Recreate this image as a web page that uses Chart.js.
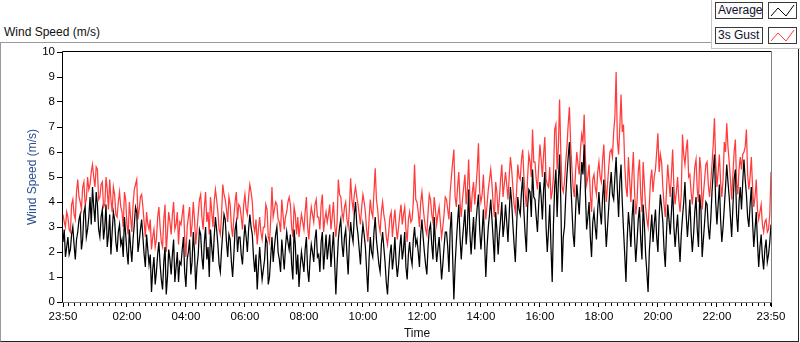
<!DOCTYPE html>
<html>
<head>
<meta charset="utf-8">
<script src="https://cdn.jsdelivr.net/npm/chart.js@4.4.1/dist/chart.umd.min.js"></script>
<style>
  body { margin: 0; background: #fff; }
  #wrap { position: relative; width: 800px; height: 342px; overflow: hidden; font-family: 'Liberation Sans', Arial, sans-serif; }
  #title { position: absolute; left: 4px; top: 25px; font-size: 12px; line-height: 15px; color: #111; }
  #frame { position: absolute; left: 0; top: 42px; width: 797px; height: 298px;
           border-left: 1px solid #9a9a9a; border-top: 1px solid #9a9a9a;
           border-right: 1px solid #222; border-bottom: 1px solid #222; }
  #windChart { position: absolute; left: 0; top: 0; }
  #legendPanel { position: absolute; left: 711px; top: 0; width: 89px; height: 48px; background: #fff;
                 border-left: 1px solid #c4c4c4; border-bottom: 1px solid #c4c4c4; }
  .lbl { position: absolute; left: 3px; width: 44px; height: 15px; border: 1px solid #3a3a3a; background: #fbfbfb;
         font-size: 12px; line-height: 15px; padding-left: 2px; color: #101028; white-space: nowrap; }
  .icon { position: absolute; left: 56px; width: 27px; height: 15px; border: 1px solid #3a3a3a; background: #fff; }
</style>
</head>
<body>
<div id="wrap">
  <div id="title">Wind Speed (m/s)</div>
  <div id="frame"></div>
  <canvas id="windChart" width="800" height="342"></canvas>
  <div id="legendPanel">
    <div class="lbl" style="top:2px">Average</div>
    <svg class="icon" style="top:2px" viewBox="0 0 27 15"><polyline points="2,13 9,5 17,13 25,2" fill="none" stroke="#000" stroke-width="1"/></svg>
    <div class="lbl" style="top:27px">3s Gust</div>
    <svg class="icon" style="top:27px" viewBox="0 0 27 15"><polyline points="2,13 9,5 17,13 25,2" fill="none" stroke="#ff3b3b" stroke-width="1"/></svg>
  </div>
</div>
<script>
// one sample every 2.5 minutes, from 23:50 (minute 0) to 23:50 next day (minute 1440)
const sampleStep = 2.5;

// Average wind speed (m/s), one row per hour
const avgSpeed = [
  2.4,2.9,1.8,2.2,2.6,1.9,2.1,2.7,3.0,2.3,1.7,2.5,2.8,3.3,3.5,2.1,2.5,3.6,3.8,2.6,2.9,3.4,4.2,3.1,
  4.6,3.8,3.2,4.4,3.9,2.9,2.6,3.4,3.7,2.5,3.0,3.9,2.2,2.7,3.5,1.9,2.8,3.6,3.3,2.4,2.0,2.8,3.1,2.3,
  2.5,1.8,3.4,2.7,2.0,1.5,2.9,2.2,1.6,2.5,3.1,3.8,3.6,2.0,2.4,2.9,3.3,2.6,1.9,1.4,2.7,2.1,1.5,1.9,
  0.4,1.3,1.8,0.7,1.2,1.9,2.4,1.5,0.9,0.5,1.6,2.2,0.3,1.0,2.1,1.7,1.1,1.9,2.5,0.8,1.4,2.0,0.8,1.6,
  1.5,2.1,2.6,1.2,0.6,1.7,2.0,2.5,1.1,1.6,2.8,2.0,0.5,1.4,1.9,2.9,2.7,1.8,1.3,2.4,3.0,1.7,2.2,1.0,
  2.9,2.2,1.6,2.6,3.4,2.9,2.3,1.5,1.2,2.1,2.8,3.5,3.3,2.4,1.8,2.7,2.5,1.6,1.0,1.9,2.9,3.2,2.0,2.6,
  2.6,1.9,1.5,2.4,3.1,2.6,2.0,2.9,3.5,3.0,2.7,1.8,1.2,1.9,0.5,1.4,2.2,1.5,0.9,1.3,1.7,2.6,2.4,0.7,
  1.0,1.8,2.6,1.6,2.2,2.7,3.0,2.0,1.7,1.2,2.5,1.9,1.3,2.2,2.8,2.4,2.1,2.7,1.5,0.9,2.9,2.3,1.1,1.9,
  0.6,1.4,2.0,1.6,1.2,2.1,2.6,1.3,0.8,1.7,2.3,2.0,1.6,2.5,2.9,1.8,1.9,1.2,2.4,2.8,1.3,2.0,2.7,1.7,
  2.2,2.7,1.4,2.1,2.8,1.6,0.3,1.5,2.5,3.0,3.3,2.3,1.8,2.6,2.9,1.9,1.1,2.4,3.2,2.7,2.4,3.5,4.0,3.1,
  2.7,2.1,1.5,2.5,3.1,2.7,2.2,1.3,0.4,1.7,2.6,2.0,1.8,2.8,3.4,2.5,2.0,1.5,1.2,2.3,2.8,2.2,1.6,0.8,
  0.3,1.2,1.9,2.3,1.3,1.8,2.6,1.6,1.0,1.5,2.2,2.7,1.7,2.1,2.8,1.4,0.9,1.9,2.4,1.8,1.5,2.5,3.0,2.3,
  2.5,2.0,1.4,2.7,3.3,2.6,2.0,1.5,1.1,2.2,2.9,3.1,2.3,1.7,3.4,2.4,1.6,2.1,2.6,1.8,0.9,1.5,2.2,2.8,
  2.8,2.2,1.2,2.9,3.6,1.8,0.1,1.5,2.4,3.2,3.9,2.6,1.7,2.5,3.1,3.7,2.3,3.0,4.5,2.8,1.9,2.7,3.4,2.1,
  3.2,3.8,4.3,2.9,2.1,2.8,3.7,2.4,1.0,2.2,3.0,3.5,4.1,3.3,2.5,1.6,3.6,2.9,1.9,2.7,3.3,4.0,2.6,3.1,
  3.9,3.2,2.4,3.5,4.6,4.0,3.1,2.3,1.6,3.0,4.2,3.7,3.5,4.4,5.0,3.6,2.7,2.0,3.8,4.5,4.4,3.4,5.3,4.2,
  4.1,3.4,2.8,3.9,4.8,4.2,3.3,4.5,5.2,3.0,2.0,2.9,3.9,2.2,0.8,3.1,4.6,5.3,3.4,4.8,5.9,4.0,1.2,2.6,
  3.0,4.2,5.1,5.8,6.4,4.9,3.8,2.7,2.2,3.6,4.7,4.1,3.5,4.6,5.6,5.1,6.3,4.4,2.9,3.4,4.0,2.6,1.8,3.2,
  3.6,3.0,2.5,3.7,4.4,3.6,3.1,4.2,4.9,3.3,2.2,3.0,3.8,4.6,5.2,4.3,4.1,5.0,5.8,4.5,3.4,4.8,5.5,4.0,
  2.9,1.9,0.8,2.5,3.6,3.0,2.2,3.4,4.1,2.6,1.6,2.4,3.3,3.8,2.5,1.7,3.9,3.1,1.9,1.2,0.4,2.0,2.8,3.5,
  2.4,3.1,3.7,2.6,2.0,3.4,4.3,3.8,3.2,2.1,1.4,2.8,3.9,3.3,2.7,3.6,4.6,3.0,2.2,2.9,3.5,2.4,1.6,2.7,
  3.4,4.0,4.8,3.5,2.6,3.3,4.1,2.8,2.0,2.7,3.6,4.2,2.9,2.2,4.3,3.7,1.8,2.5,3.2,4.0,3.9,3.0,2.5,3.3,
  4.4,5.2,5.9,4.0,3.1,3.9,4.7,3.3,2.4,3.0,3.8,4.6,5.5,4.8,4.2,3.4,2.6,3.8,4.9,5.3,3.5,2.8,4.0,4.6,
  3.7,4.8,5.7,4.9,4.3,3.4,3.0,3.9,4.6,3.2,2.2,2.9,3.6,2.4,1.4,2.2,2.7,1.8,1.3,2.1,2.5,1.6,1.9,2.4,
  3.1
];

// 3 second gust (m/s)
const gustSpeed = [
  3.5,3.2,3.0,3.6,3.4,2.9,2.8,3.9,4.1,3.5,3.3,4.4,4.9,4.2,4.0,3.7,4.6,4.8,3.9,4.1,5.0,4.5,4.7,5.2,
  5.5,5.0,4.6,5.4,5.3,4.1,4.2,4.7,4.8,3.8,3.9,5.0,4.5,3.7,4.9,4.1,3.6,4.6,4.3,3.5,3.4,4.0,4.4,3.8,
  3.6,3.0,4.4,4.1,3.1,2.7,4.0,3.4,2.8,3.9,4.5,4.7,4.9,3.3,3.7,4.2,4.3,3.8,3.2,2.6,3.6,3.1,2.9,3.3,
  2.1,2.6,2.9,2.2,2.5,3.4,3.8,3.0,2.4,2.2,3.3,3.9,2.0,2.8,3.6,3.2,2.7,3.5,4.0,2.9,3.1,3.6,2.3,3.2,
  3.1,3.5,3.9,2.6,1.8,3.0,3.4,3.8,2.6,3.1,4.0,3.3,2.3,2.9,3.5,4.1,4.3,3.4,2.9,3.8,4.4,3.2,3.6,2.7,
  4.2,3.6,3.0,4.0,4.5,4.1,3.6,2.9,2.7,3.5,4.7,4.3,4.1,3.7,3.2,4.2,3.9,3.0,2.6,3.4,4.0,4.4,3.3,3.9,
  3.8,3.4,2.9,3.9,4.3,3.7,3.5,4.2,4.7,4.4,4.0,3.1,2.8,3.3,2.3,2.9,3.4,2.8,2.5,3.0,3.0,3.9,3.7,2.6,
  2.4,3.3,4.6,3.4,3.7,4.0,3.9,3.3,3.2,2.8,4.1,3.5,2.9,3.4,3.6,4.0,4.2,3.9,3.0,2.6,3.8,3.5,2.7,3.4,
  2.6,3.1,3.5,3.2,2.9,3.6,4.2,3.0,2.5,3.3,3.8,3.5,3.2,3.9,4.1,3.4,3.4,2.9,3.9,4.3,2.8,3.3,3.6,3.2,
  3.5,3.9,2.9,3.4,4.0,3.1,2.6,3.2,4.9,4.3,4.2,3.6,3.3,3.8,4.0,3.3,3.0,3.7,4.95,4.1,3.7,4.3,4.6,4.2,
  3.9,3.5,3.1,3.8,4.3,4.0,3.6,2.9,2.4,3.3,4.1,3.6,3.4,4.4,5.35,4.1,3.7,3.1,2.8,3.6,4.0,3.5,3.2,2.6,
  2.3,2.8,3.4,3.6,2.6,3.2,3.7,3.0,2.5,3.0,3.5,3.9,3.1,3.5,3.8,2.9,2.4,3.3,3.6,3.2,3.3,4.0,5.5,4.1,
  4.0,3.6,3.0,4.0,4.4,3.8,3.3,2.9,2.7,3.6,4.3,4.1,3.5,3.2,4.2,3.7,3.1,3.5,3.8,3.2,2.6,3.0,3.5,4.2,
  4.1,3.7,3.3,4.4,5.0,5.6,6.1,4.2,3.8,4.6,5.2,4.0,3.4,4.1,4.6,5.1,3.9,4.5,5.7,4.3,3.6,4.4,4.8,3.9,
  4.6,5.3,6.35,4.4,4.0,4.3,5.1,4.0,3.3,3.9,4.5,4.9,5.3,4.7,3.9,3.4,4.8,4.4,3.5,4.1,4.9,5.5,4.2,4.7,
  5.2,4.7,4.1,5.0,5.8,5.3,4.6,3.9,3.6,4.4,5.5,5.0,4.9,5.7,6.1,5.0,4.3,3.8,5.0,5.9,5.6,5.0,6.9,5.6,
  5.6,4.9,4.5,5.4,6.3,5.7,5.0,5.9,6.6,4.9,4.7,4.6,5.4,4.1,4.4,5.0,6.9,7.1,5.3,6.2,8.1,6.0,4.6,4.4,
  4.8,5.6,6.2,7.1,7.8,6.3,5.4,4.6,4.2,5.2,6.0,5.5,5.1,6.1,6.7,6.4,7.5,5.8,4.7,5.0,5.5,4.3,3.6,4.9,
  5.1,4.6,4.3,5.2,5.6,5.0,4.8,5.7,6.3,4.9,4.0,4.7,5.4,6.0,6.1,5.8,6.8,7.4,9.2,6.5,5.9,7.0,8.3,6.8,
  7.1,5.5,4.6,4.2,5.8,4.9,4.0,5.1,6.0,4.4,3.5,4.0,5.2,5.7,4.3,3.6,5.6,4.7,3.8,3.3,3.0,3.9,4.9,5.3,
  4.4,5.0,5.3,6.0,6.75,5.2,5.9,5.6,4.6,3.9,3.4,4.5,5.5,4.8,4.2,5.1,6.1,4.6,3.9,4.4,5.0,4.1,3.6,4.3,
  6.7,5.9,5.5,6.1,6.5,5.0,5.1,4.4,3.9,4.6,5.4,5.7,4.5,4.0,5.8,5.3,3.7,4.3,4.9,5.5,5.6,4.7,4.2,4.8,
  5.5,6.3,7.35,5.6,4.6,5.2,5.9,4.8,4.2,4.9,6.4,6.0,7.15,6.2,5.6,4.9,4.1,5.1,6.0,6.5,4.8,4.3,5.3,5.8,
  5.3,5.9,6.0,6.2,6.9,5.1,4.5,5.0,5.8,4.6,3.8,4.2,4.9,3.7,3.3,3.6,3.9,3.1,2.8,3.2,3.3,2.8,2.9,3.5,
  5.2
];

// x axis: labelled ticks (minutes after 23:50)
const timeLabels = ['23:50','02:00','04:00','06:00','08:00','10:00','12:00','14:00','16:00','18:00','20:00','22:00','23:50'];
const timeTickMinutes = [0,130,250,370,490,610,730,850,970,1090,1210,1330,1440];
// minor ticks every 12 min of clock time (00:00, 00:12, ...)
const minorTickMinutes = [];
for (let m = 10; m < 1440; m += 12) minorTickMinutes.push(m);

const yTickValues = [0,1,2,3,4,5,6,7,8,9,10];

const FONT = "'Liberation Sans', Arial, sans-serif";

const toPoints = (arr) => arr.map((v, i) => ({ x: i * sampleStep, y: v }));

// frame around the plot + short minor ticks on the time axis
const plotFrame = {
  id: 'plotFrame',
  afterDraw(chart) {
    const { ctx, chartArea: a, scales } = chart;
    const L = Math.round(a.left) - 0.5, R = Math.round(a.right) + 0.5;
    const T = Math.round(a.top) - 0.5, B = Math.round(a.bottom) + 0.5;
    ctx.save();
    ctx.lineWidth = 1;
    ctx.strokeStyle = '#000';
    ctx.beginPath();
    ctx.moveTo(L, B); ctx.lineTo(L, T); ctx.lineTo(R, T);
    ctx.stroke();
    ctx.strokeStyle = '#808080';
    ctx.beginPath();
    ctx.moveTo(R, T); ctx.lineTo(R, B); ctx.lineTo(L, B);
    ctx.stroke();
    ctx.strokeStyle = '#000';
    ctx.beginPath();
    minorTickMinutes.forEach(m => {
      if (timeTickMinutes.includes(m)) return;
      const x = Math.round(scales.x.getPixelForValue(m)) + 0.5;
      ctx.moveTo(x, B + 0.5);
      ctx.lineTo(x, B + 3.5);
    });
    ctx.stroke();
    ctx.restore();
  }
};

new Chart(document.getElementById('windChart'), {
  type: 'line',
  data: {
    datasets: [
      { label: 'Average', data: toPoints(avgSpeed), borderColor: '#000', borderWidth: 1.25,
        pointRadius: 0, tension: 0, fill: false },
      { label: '3s Gust', data: toPoints(gustSpeed), borderColor: '#ff3b3b', borderWidth: 1.25,
        pointRadius: 0, tension: 0, fill: false }
    ]
  },
  options: {
    responsive: false,
    animation: false,
    events: [],
    layout: { padding: { left: 18, right: 29, top: 52, bottom: 0 } },
    plugins: { legend: { display: false }, tooltip: { enabled: false } },
    scales: {
      x: {
        type: 'linear', min: 0, max: 1440,
        afterBuildTicks: (s) => { s.ticks = timeTickMinutes.map(v => ({ value: v })); },
        afterFit: (s) => { s.height = 40; },
        ticks: {
          autoSkip: false, maxRotation: 0, padding: 3, color: '#000',
          font: { family: FONT, size: 11.5 },
          callback: (v, i) => timeLabels[i]
        },
        grid: { drawOnChartArea: false, drawTicks: true, tickLength: 5, tickColor: '#000' },
        border: { display: false },
        title: { display: true, text: 'Time', color: '#111', font: { family: FONT, size: 12 },
                 padding: { top: 0, bottom: 1 } }
      },
      y: {
        min: 0, max: 10,
        afterBuildTicks: (s) => { s.ticks = yTickValues.map(v => ({ value: v })); },
        afterFit: (s) => { s.width = 45; },
        ticks: { padding: 2, color: '#000', font: { family: FONT, size: 11.5 } },
        grid: { drawOnChartArea: false, drawTicks: true, tickLength: 6, tickColor: '#000' },
        border: { display: false },
        title: { display: true, text: 'Wind Speed (m/s)', color: '#2b4f8f', font: { family: FONT, size: 12 },
                 padding: { top: 7, bottom: 0 } }
      }
    }
  },
  plugins: [plotFrame]
});
</script>
</body>
</html>
